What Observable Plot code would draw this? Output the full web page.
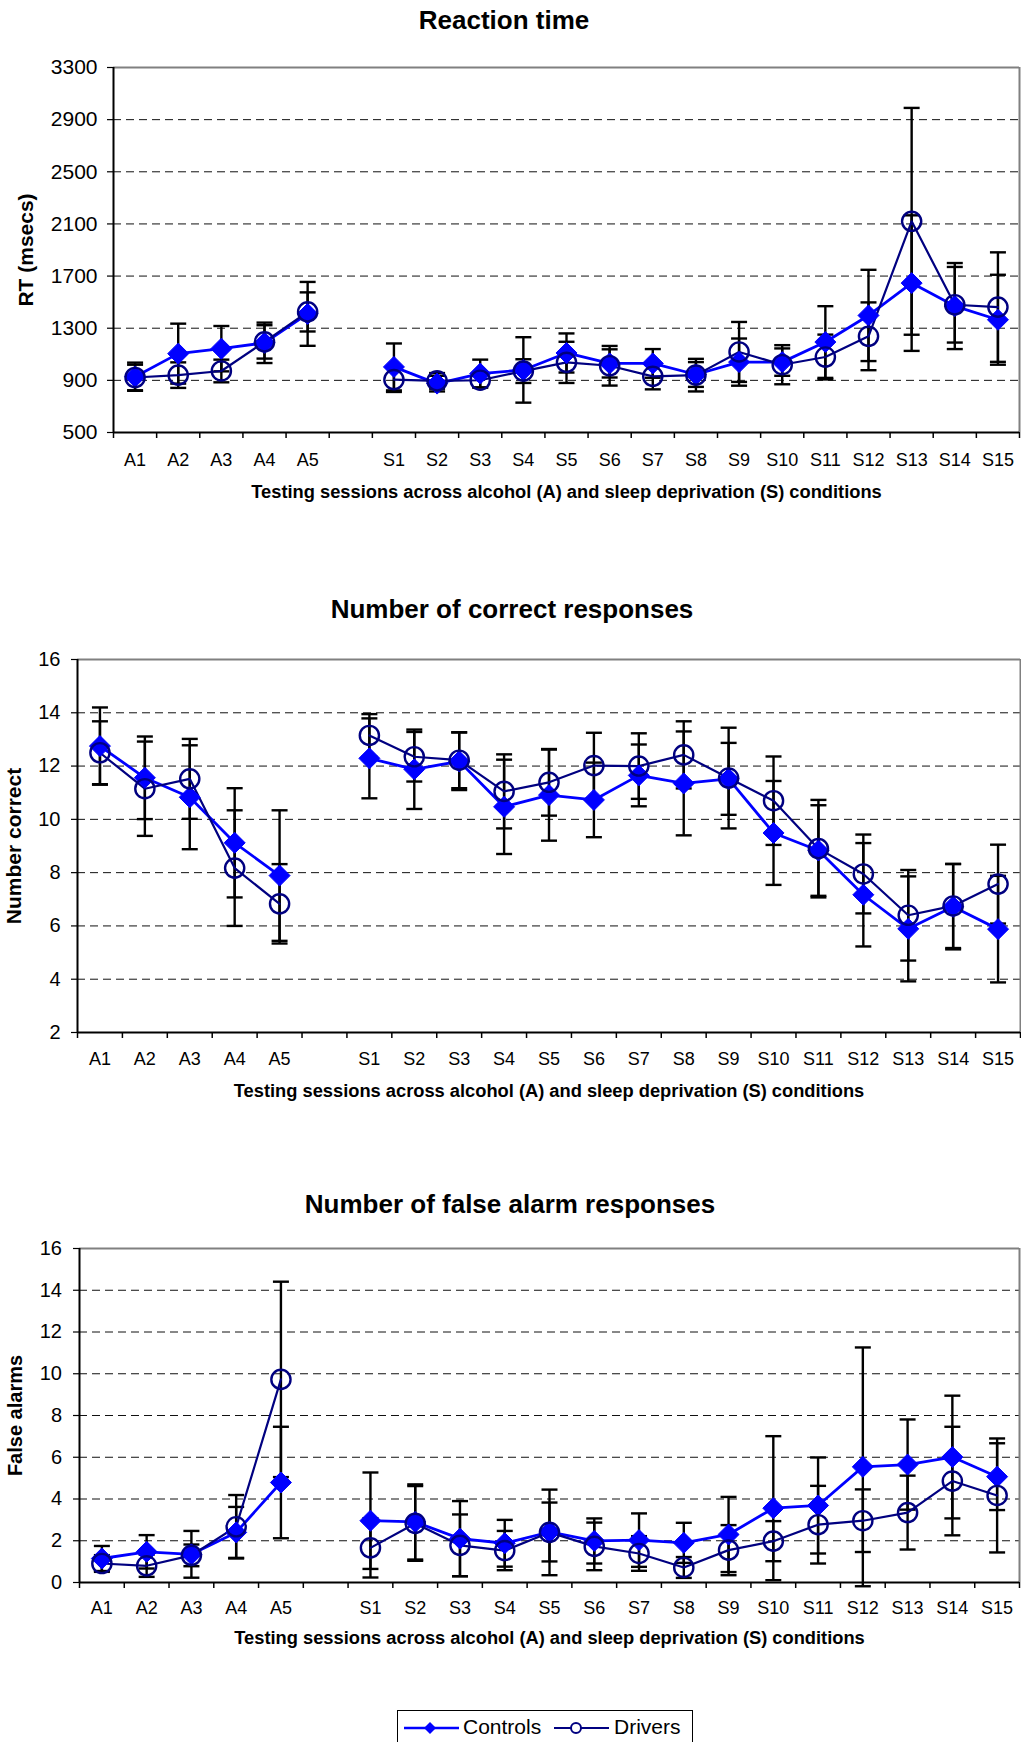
<!DOCTYPE html>
<html>
<head>
<meta charset="utf-8">
<script src="https://cdn.jsdelivr.net/npm/d3@7"></script>
<script src="https://cdn.jsdelivr.net/npm/@observablehq/plot@0.6"></script>
<style>
  body { margin: 0; background: #fff; font-family: "Liberation Sans", Arial, sans-serif; }
  #root { position: relative; width: 1021px; height: 1742px; overflow: hidden; background: #fff; }
  .title { position: absolute; width: 700px; text-align: center; font-weight: bold; font-size: 26px; line-height: 30px; color: #000; }
  .legend { position: absolute; left: 397px; top: 1710px; width: 296px; height: 44px; border: 1px solid #000; box-sizing: border-box; background: #fff; }
  .legend span { position: absolute; font-size: 21px; line-height: 24px; color: #000; white-space: nowrap; }
  .legend svg { position: absolute; }
</style>
</head>
<body>
<div id="root"></div>
<script>
// ---------- categories / tick labels ----------
const categories = ["A1","A2","A3","A4","A5","","S1","S2","S3","S4","S5","S6","S7","S8","S9","S10","S11","S12","S13","S14","S15"];
const sessions = ["A1","A2","A3","A4","A5","S1","S2","S3","S4","S5","S6","S7","S8","S9","S10","S11","S12","S13","S14","S15"];
const seriesNames = ["Controls", "Drivers"];
const xTitle = "Testing sessions across alcohol (A) and sleep deprivation (S) conditions";

// ---------- Reaction time (msecs) ----------
const rtControls    = [928, 1105, 1143, 1188, 1410, 1003, 875, 952, 980, 1110, 1030, 1030, 945, 1040, 1040, 1194, 1398, 1646, 1470, 1365];
const rtControlsErr = [108, 230, 174, 155, 245, 180, 60, 107, 251, 150, 108, 110, 95, 181, 105, 275, 350, 520, 330, 345];
const rtDrivers     = [922, 940, 972, 1195, 1425, 906, 896, 901, 971, 1038, 1012, 931, 940, 1118, 1020, 1079, 1238, 2120, 1480, 1462];
const rtDriversErr  = [98, 98, 87, 128, 150, 95, 60, 55, 91, 158, 152, 100, 125, 230, 150, 172, 260, 870, 290, 420];
const rtTicks = [500, 900, 1300, 1700, 2100, 2500, 2900, 3300];

// ---------- Number of correct responses ----------
const corControls    = [12.75, 11.56, 10.83, 9.12, 7.89, 12.29, 11.88, 12.18, 10.47, 10.91, 10.73, 11.65, 11.35, 11.52, 9.49, 8.83, 7.17, 5.89, 6.72, 5.88];
const corControlsErr = [1.45, 1.55, 1.95, 2.05, 2.45, 1.5, 1.49, 1.08, 1.77, 1.71, 1.4, 1.16, 1.95, 1.35, 1.95, 1.7, 1.94, 1.97, 1.6, 2.0];
const corDrivers     = [12.5, 11.15, 11.52, 8.17, 6.83, 13.15, 12.35, 12.22, 11.05, 11.39, 12.02, 12.0, 12.42, 11.55, 10.7, 8.9, 7.95, 6.4, 6.75, 7.57];
const corDriversErr  = [1.18, 1.77, 1.5, 2.17, 1.49, 0.8, 0.93, 1.05, 1.39, 1.25, 1.23, 1.23, 1.26, 1.89, 1.66, 1.83, 1.48, 1.7, 1.58, 1.48];
const corTicks = [2, 4, 6, 8, 10, 12, 14, 16];

// ---------- Number of false alarm responses ----------
const faControls    = [1.15, 1.47, 1.35, 2.4, 4.79, 2.96, 2.9, 2.1, 1.88, 2.42, 1.99, 2.03, 1.9, 2.3, 3.56, 3.69, 5.54, 5.65, 6.01, 5.07];
const faControlsErr = [0.6, 0.8, 1.12, 1.22, 2.67, 2.31, 1.8, 1.8, 1.12, 1.41, 1.08, 1.28, 0.96, 1.8, 3.45, 2.3, 5.72, 2.16, 2.94, 1.6];
const faDrivers     = [0.91, 0.8, 1.3, 2.67, 9.73, 1.66, 2.83, 1.78, 1.53, 2.4, 1.73, 1.39, 0.72, 1.55, 1.98, 2.77, 2.96, 3.35, 4.86, 4.17];
const faDriversErr  = [0.4, 0.53, 0.52, 1.52, 4.68, 1.42, 1.79, 1.48, 0.94, 2.05, 1.14, 0.83, 0.5, 1.2, 0.96, 1.86, 1.5, 1.77, 2.6, 2.73];
const faTicks = [0, 2, 4, 6, 8, 10, 12, 14, 16];

// ---------- styling ----------
const CONTROLS_COLOR = "#0000FF";
const DRIVERS_COLOR = "#000080";
const FONT = "'Liberation Sans', Arial, sans-serif";

const capSymbol = { draw(ctx, size) { const r = Math.sqrt(size / Math.PI); ctx.moveTo(-r, 0); ctx.lineTo(r, 0); } };
const diamondSymbol = { draw(ctx, size) { const r = Math.sqrt(size / Math.PI); ctx.moveTo(0, -r); ctx.lineTo(r, 0); ctx.lineTo(0, r); ctx.lineTo(-r, 0); ctx.closePath(); } };

function rows(series, means, errs) {
  return sessions.map((s, i) => ({
    session: s, x: categories.indexOf(s), group: s[0], series, mean: means[i], err: errs[i]
  }));
}

const root = document.getElementById("root");

function addTitle(text, cx, cy) {
  const d = document.createElement("div");
  d.className = "title";
  d.textContent = text;
  d.style.left = (cx - 350) + "px";
  d.style.top = (cy - 15) + "px";
  root.appendChild(d);
}

function panel(cfg) {
  const c = rows(seriesNames[0], cfg.controls, cfg.controlsErr);
  const dr = rows(seriesNames[1], cfg.drivers, cfg.driversErr);
  const all = c.concat(dr);
  const yMin = cfg.ticks[0], yMax = cfg.ticks[cfg.ticks.length - 1];
  const svg = Plot.plot({
    width: 1021,
    height: cfg.height,
    marginTop: cfg.mt, marginBottom: cfg.mb, marginLeft: cfg.ml, marginRight: cfg.mr,
    style: { fontFamily: FONT, fontSize: "18px", color: "#000", background: "transparent", overflow: "visible" },
    x: { type: "linear", domain: [-0.5, categories.length - 0.5], label: null },
    y: { domain: [yMin, yMax], label: null },
    marks: [
      Plot.ruleY(cfg.ticks.slice(1, -1), { stroke: "#111", strokeWidth: 1, strokeDasharray: "8,5" }),
      Plot.ruleY([yMax], { stroke: "#808080", strokeWidth: 2 }),
      Plot.ruleX([categories.length - 0.5], { stroke: "#808080", strokeWidth: 2 }),
      Plot.axisY(cfg.ticks, { tickSize: 6, tickPadding: cfg.yPad, fontSize: cfg.yFont, tickFormat: d => String(d), label: null, strokeWidth: 1.2 }),
      Plot.axisX(d3.range(categories.length), { tickSize: 0, tickPadding: cfg.xPad, fontSize: 18, tickFormat: i => categories[i], label: null }),
      Plot.axisX(d3.range(categories.length + 1).map(i => i - 0.5), { tickSize: 6, tickFormat: () => "", label: null, strokeWidth: 1.5 }),
      Plot.ruleX([-0.5], { stroke: "#000", strokeWidth: 2 }),
      Plot.ruleY([yMin], { stroke: "#000", strokeWidth: 2 }),
      // error bars
      Plot.ruleX(all, { x: "x", y1: d => d.mean - d.err, y2: d => d.mean + d.err, stroke: "#000", strokeWidth: 2.4 }),
      Plot.dot(all, { x: "x", y: d => d.mean + d.err, symbol: capSymbol, r: 8, fill: "none", stroke: "#000", strokeWidth: 2.4 }),
      Plot.dot(all, { x: "x", y: d => d.mean - d.err, symbol: capSymbol, r: 8, fill: "none", stroke: "#000", strokeWidth: 2.4 }),
      // series lines
      Plot.line(c, { x: "x", y: "mean", z: "group", stroke: CONTROLS_COLOR, strokeWidth: 2.8 }),
      Plot.line(dr, { x: "x", y: "mean", z: "group", stroke: DRIVERS_COLOR, strokeWidth: 2.2 }),
      // markers
      Plot.dot(c, { x: "x", y: "mean", symbol: diamondSymbol, r: 10.5, fill: CONTROLS_COLOR, stroke: CONTROLS_COLOR, strokeWidth: 1 }),
      Plot.dot(dr, { x: "x", y: "mean", r: 9.6, fill: "none", stroke: DRIVERS_COLOR, strokeWidth: 2.4 }),
      // axis titles
      Plot.text([xTitle], { text: d => d, frameAnchor: "bottom", lineAnchor: "middle", textAnchor: "middle", dy: cfg.xTitleDy, fontSize: 18.3, fontWeight: "bold", fill: "#000" }),
      Plot.text([cfg.yLabel], { text: d => d, frameAnchor: "left", lineAnchor: "middle", textAnchor: "middle", dx: cfg.yTitleDx, rotate: -90, fontSize: cfg.yTitleFont, fontWeight: "bold", fill: "#000" })
    ]
  });
  svg.style.position = "absolute";
  svg.style.left = "0px";
  svg.style.top = cfg.top + "px";
  root.appendChild(svg);
}

addTitle("Reaction time", 504, 19.5);
panel({ top: 40, height: 470, mt: 27, mb: 78, ml: 113, mr: 2, ticks: rtTicks, yFont: 21, yPad: 10, xPad: 21, xTitleDy: 60, yTitleDx: -87, yTitleFont: 21, yLabel: "RT (msecs)",
  controls: rtControls, controlsErr: rtControlsErr, drivers: rtDrivers, driversErr: rtDriversErr });

addTitle("Number of correct responses", 512, 609);
panel({ top: 630, height: 480, mt: 29, mb: 78, ml: 77, mr: 1, ticks: corTicks, yFont: 20, yPad: 11, xPad: 20, xTitleDy: 59, yTitleDx: -63.5, yTitleFont: 21, yLabel: "Number correct",
  controls: corControls, controlsErr: corControlsErr, drivers: corDrivers, driversErr: corDriversErr });

addTitle("Number of false alarm responses", 510, 1203.5);
panel({ top: 1220, height: 440, mt: 28, mb: 78, ml: 79, mr: 2, ticks: faTicks, yFont: 20, yPad: 11.5, xPad: 19, xTitleDy: 56, yTitleDx: -64, yTitleFont: 20, yLabel: "False alarms",
  controls: faControls, controlsErr: faControlsErr, drivers: faDrivers, driversErr: faDriversErr });

// ---------- legend ----------
const legend = document.createElement("div");
legend.className = "legend";
const ns = "http://www.w3.org/2000/svg";
function swatch(left, color, kind) {
  const s = document.createElementNS(ns, "svg");
  s.setAttribute("width", 56); s.setAttribute("height", 20);
  s.style.left = left + "px"; s.style.top = "7px";
  const l = document.createElementNS(ns, "line");
  l.setAttribute("x1", 0); l.setAttribute("x2", 55); l.setAttribute("y1", 10); l.setAttribute("y2", 10);
  l.setAttribute("stroke", color); l.setAttribute("stroke-width", kind === "diamond" ? 2.5 : 2);
  s.appendChild(l);
  if (kind === "diamond") {
    const p = document.createElementNS(ns, "path");
    p.setAttribute("d", "M26,4L32,10L26,16L20,10Z");
    p.setAttribute("fill", color);
    s.appendChild(p);
  } else {
    const c = document.createElementNS(ns, "circle");
    c.setAttribute("cx", 22); c.setAttribute("cy", 10); c.setAttribute("r", 5);
    c.setAttribute("fill", "#fff"); c.setAttribute("stroke", color); c.setAttribute("stroke-width", 2);
    s.appendChild(c);
  }
  legend.appendChild(s);
}
function label(left, text) {
  const sp = document.createElement("span");
  sp.textContent = text;
  sp.style.left = left + "px"; sp.style.top = "4px";
  legend.appendChild(sp);
}
swatch(6, CONTROLS_COLOR, "diamond");
label(65, seriesNames[0]);
swatch(156, DRIVERS_COLOR, "circle");
label(216, seriesNames[1]);
root.appendChild(legend);
</script>
</body>
</html>
